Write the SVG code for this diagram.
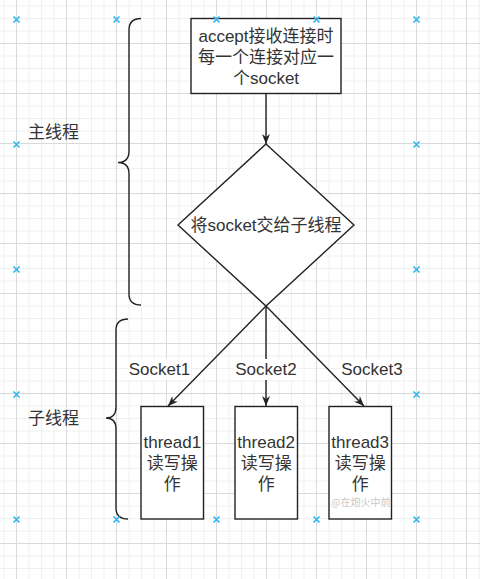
<svg xmlns="http://www.w3.org/2000/svg" width="480" height="579" viewBox="0 0 480 579">
<style>
.box{fill:#fff;stroke:#222;stroke-width:1.4}
.t{font-family:"Liberation Sans","Noto Sans CJK SC",sans-serif;font-size:17px;fill:#333;text-anchor:middle}
.tl{font-family:"Liberation Sans","Noto Sans CJK SC",sans-serif;font-size:17px;fill:#333}
.edge{fill:none;stroke:#222;stroke-width:1.4}
.brace{fill:none;stroke:#222;stroke-width:1.4}
.bg{fill:#fff}
.wm{font-family:"Noto Sans CJK SC",sans-serif;font-size:10px;fill:#c8c8c8}
</style>
<defs>
<pattern id="grid" patternUnits="userSpaceOnUse" x="16" y="43" width="50" height="50">
<path d="M13,0V50M25.5,0V50M38,0V50M0,13H50M0,25.5H50M0,38H50" stroke="#f0f0f0" stroke-width="1" fill="none"/>
<path d="M0.5,0V50M0,0.5H50" stroke="#dadada" stroke-width="1" fill="none"/>
</pattern>
<marker id="arr" viewBox="0 0 10 8" refX="10" refY="4" markerWidth="10" markerHeight="8" markerUnits="userSpaceOnUse" orient="auto">
<path d="M0,0 L10,4 L0,8 L3,4 z" fill="#222"/>
</marker>
<path id="x" d="M-3,-3L3,3M-3,3L3,-3" stroke="#29b6f2" stroke-width="1.6" fill="none"/>
<clipPath id="wmclip"><rect x="328" y="490" width="63" height="20"/></clipPath>
</defs>
<rect width="480" height="579" fill="#fff"/>
<rect width="480" height="579" fill="url(#grid)"/>

<g id="brace-main">
<path class="brace" d="M141,18.5 Q129,18.5 129,30 L129,151 Q129,162.5 118,162.5 Q129,162.5 129,174 L129,294 Q129,305 141,305"/>
<text class="tl" x="28" y="138">主线程</text>
</g>
<g id="brace-sub">
<path class="brace" d="M128,319 Q116,319 116,330 L116,407 Q116,418 106,418 Q116,418 116,429 L116,508 Q116,519 128,519"/>
<text class="tl" x="28" y="424">子线程</text>
</g>

<g id="connectors">
<path class="edge" d="M266,94 L266,144" marker-end="url(#arr)"/>
<path class="edge" d="M266,306 L168,406" marker-end="url(#arr)"/>
<path class="edge" d="M266,306 L266,406" marker-end="url(#arr)"/>
<path class="edge" d="M266,306 L364,406" marker-end="url(#arr)"/>
<rect class="bg" x="128" y="359" width="63" height="21"/>
<text class="t" x="159.5" y="375">Socket1</text>
<rect class="bg" x="234" y="359" width="64" height="21"/>
<text class="t" x="266" y="375">Socket2</text>
<rect class="bg" x="340" y="359" width="64" height="21"/>
<text class="t" x="372" y="375">Socket3</text>
</g>

<g id="accept">
<rect class="box" x="191" y="18.5" width="150" height="75"/>
<text class="t" x="266" y="41.5">accept接收连接时</text>
<text class="t" x="266" y="62.5">每一个连接对应一</text>
<text class="t" x="266" y="83.5">个socket</text>
</g>

<g id="dispatch">
<path class="box" d="M266,144 L354,225 L266,306 L178,225 Z"/>
<text class="t" x="266" y="231">将socket交给子线程</text>
</g>

<g id="thread1">
<rect class="box" x="141" y="406.5" width="62.5" height="112.5"/>
<text class="t" x="172.3" y="447.5">thread1</text>
<text class="t" x="172.3" y="468.5">读写操</text>
<text class="t" x="172.3" y="489.5">作</text>
</g>
<g id="thread2">
<rect class="box" x="235" y="406.5" width="62.5" height="112.5"/>
<text class="t" x="266.2" y="447.5">thread2</text>
<text class="t" x="266.2" y="468.5">读写操</text>
<text class="t" x="266.2" y="489.5">作</text>
</g>
<g id="thread3">
<rect class="box" x="329" y="406.5" width="62.5" height="112.5"/>
<text class="t" x="360.2" y="447.5">thread3</text>
<text class="t" x="360.2" y="468.5">读写操</text>
<text class="t" x="360.2" y="489.5">作</text>
<text class="wm" x="331" y="506" clip-path="url(#wmclip)">@在炮火中前进</text>
</g>

<g id="markers">
<use href="#x" x="16.5" y="19.5"/>
<use href="#x" x="116.5" y="19.5"/>
<use href="#x" x="216.5" y="19.5"/>
<use href="#x" x="316.5" y="19.5"/>
<use href="#x" x="416.5" y="19.5"/>
<use href="#x" x="16.5" y="144.5"/>
<use href="#x" x="416.5" y="144.5"/>
<use href="#x" x="16.5" y="269.5"/>
<use href="#x" x="416.5" y="269.5"/>
<use href="#x" x="16.5" y="394.5"/>
<use href="#x" x="416.5" y="394.5"/>
<use href="#x" x="16.5" y="519.5"/>
<use href="#x" x="116.5" y="519.5"/>
<use href="#x" x="216.5" y="519.5"/>
<use href="#x" x="316.5" y="519.5"/>
<use href="#x" x="416.5" y="519.5"/>
</g>
</svg>
